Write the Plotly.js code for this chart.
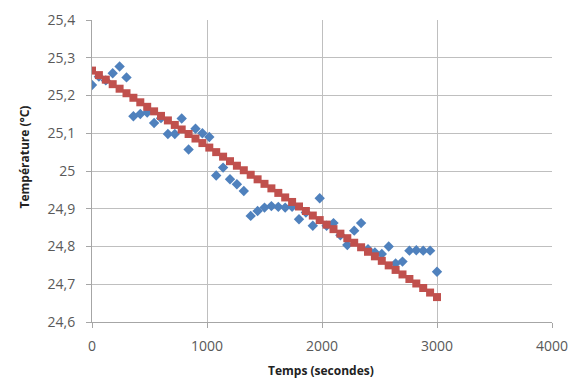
<!DOCTYPE html>
<html><head><meta charset="utf-8">
<script src="https://cdn.plot.ly/plotly-3.0.1.min.js"></script>
<style>html,body{margin:0;padding:0;background:#fff}#c{width:573px;height:387px}</style>
</head><body><div id="c"></div>
<script>
var temps = [0,60,120,180,240,300,360,420,480,540,600,660,720,780,840,900,960,1020,1080,1140,1200,1260,1320,1380,1440,1500,1560,1620,1680,1740,1800,1860,1920,1980,2040,2100,2160,2220,2280,2340,2400,2460,2520,2580,2640,2700,2760,2820,2880,2940,3000];
var mesures = [25.228,25.25,25.24,25.259,25.277,25.248,25.145,25.151,25.155,25.127,25.14,25.098,25.098,25.139,25.057,25.112,25.1,25.09,24.988,25.009,24.978,24.965,24.947,24.881,24.894,24.903,24.907,24.905,24.903,24.905,24.872,24.89,24.855,24.928,24.855,24.862,24.83,24.804,24.842,24.862,24.793,24.784,24.78,24.8,24.755,24.76,24.789,24.79,24.789,24.789,24.733];
var tendance = [25.266,25.254,25.242,25.230,25.218,25.206,25.194,25.182,25.170,25.158,25.146,25.134,25.122,25.110,25.098,25.086,25.074,25.062,25.050,25.038,25.026,25.014,25.002,24.990,24.978,24.966,24.954,24.942,24.930,24.918,24.906,24.894,24.882,24.870,24.858,24.846,24.834,24.822,24.810,24.798,24.786,24.774,24.762,24.750,24.738,24.726,24.714,24.702,24.690,24.678,24.666];
var yTickVals = [24.6,24.7,24.8,24.9,25,25.1,25.2,25.3,25.4];
var yTickText = ['24,6','24,7','24,8','24,9','25','25,1','25,2','25,3','25,4'];
var xTickVals = [0,1000,2000,3000,4000];
var xTickText = ['0','1000','2000','3000','4000'];
var xTitle = 'Temps (secondes)';
var yTitle = 'Température (°C)';

var traces = [
 {x: temps, y: mesures, type:'scatter', mode:'markers', name:'Mesures',
  marker:{symbol:'diamond', size:8, color:'#4f81bd'}},
 {x: temps, y: tendance, type:'scatter', mode:'markers', name:'Tendance',
  marker:{symbol:'square', size:8, color:'#c0504d'}}
];
var fam = '"Open Sans", "Liberation Sans", sans-serif';
var axisFont = {family:fam, size:14, color:'#595959'};
var titleFont = {family:fam, size:12, color:'#222'};
var layout = {
  width:573, height:387,
  margin:{l:92, r:21, t:20, b:65},
  paper_bgcolor:'#fff', plot_bgcolor:'#fff',
  showlegend:false,
  xaxis:{range:[0,4000], tickvals:xTickVals, ticktext:xTickText,
    showgrid:true, gridcolor:'#bfbfbf', gridwidth:1, zeroline:false,
    showline:true, linecolor:'#a6a6a6', ticks:'outside', ticklen:5, tickcolor:'#a6a6a6',
    tickfont:axisFont, ticklabelstandoff:6},
  yaxis:{range:[24.6,25.4], tickvals:yTickVals, ticktext:yTickText,
    showgrid:true, gridcolor:'#bfbfbf', gridwidth:1, zeroline:false,
    showline:true, linecolor:'#a6a6a6', ticks:'outside', ticklen:5, tickcolor:'#a6a6a6',
    tickfont:axisFont, ticklabelstandoff:8},
  annotations:[
    {text:'<b>'+xTitle+'</b>', xref:'paper', yref:'paper', x:0.498, y:-0.162,
     xanchor:'center', yanchor:'middle', showarrow:false, font:titleFont},
    {text:'<b>'+yTitle+'</b>', xref:'paper', yref:'paper', x:-0.147, y:0.546,
     xanchor:'center', yanchor:'middle', textangle:-90, showarrow:false, font:titleFont}
  ]
};
Plotly.newPlot('c', traces, layout, {displayModeBar:false, staticPlot:true});
</script></body></html>
